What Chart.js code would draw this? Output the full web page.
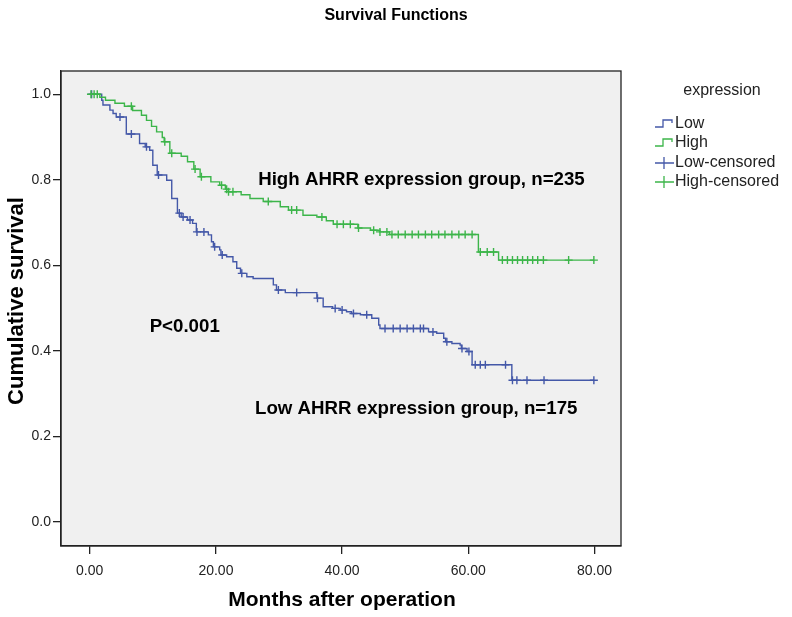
<!DOCTYPE html>
<html>
<head>
<meta charset="utf-8">
<script src="https://cdn.jsdelivr.net/npm/chart.js@4"></script>
<style>
  body { margin: 0; background: #fff; }
  #km { display: block; }
</style>
</head>
<body>
<canvas id="km" width="792" height="617"></canvas>
<script>
// Kaplan-Meier steps: event time (months) and survival after that event
const lowTimes = [0, 1.9, 2.1, 3.2, 3.7, 4.2, 5.8, 7.9, 8.8, 9.5, 10.0, 10.7, 12.2, 13.0, 13.9, 14.5, 15.5, 16.3, 16.9, 18.8, 19.3, 19.6, 20.6, 20.8, 21.7, 22.7, 23.3, 23.9, 24.9, 25.9, 29.1, 29.6, 31.0, 36.0, 37.0, 38.5, 39.7, 40.7, 41.5, 42.9, 44.7, 45.8, 46.0, 53.7, 55.0, 56.1, 56.4, 57.4, 58.7, 58.9, 59.8, 60.6, 66.9];
const lowSurv = [1.0, 0.986, 0.975, 0.963, 0.955, 0.947, 0.907, 0.885, 0.877, 0.869, 0.834, 0.811, 0.799, 0.756, 0.722, 0.713, 0.706, 0.698, 0.678, 0.671, 0.655, 0.643, 0.636, 0.624, 0.620, 0.608, 0.593, 0.581, 0.573, 0.569, 0.554, 0.542, 0.536, 0.523, 0.503, 0.499, 0.495, 0.491, 0.487, 0.484, 0.476, 0.460, 0.452, 0.444, 0.441, 0.429, 0.421, 0.417, 0.413, 0.405, 0.398, 0.367, 0.331];
const lowCensored = [0.3, 4.8, 6.6, 9.0, 10.9, 14.2, 14.8, 15.9, 17.0, 18.1, 19.8, 21.0, 24.1, 29.9, 32.8, 36.1, 38.9, 40.0, 41.8, 43.9, 46.8, 48.1, 49.2, 50.3, 51.3, 52.4, 52.9, 54.4, 56.6, 59.0, 60.1, 61.1, 61.9, 62.7, 65.9, 67.0, 67.7, 69.3, 72.0, 79.9];
const lowEnd = 79.9;

const highTimes = [0, 1.6, 2.5, 4.0, 5.5, 6.8, 8.2, 9.0, 9.8, 10.6, 11.5, 11.8, 12.7, 14.5, 15.5, 16.5, 17.5, 19.2, 20.6, 21.5, 22.0, 24.0, 25.4, 27.5, 30.2, 31.5, 33.8, 36.0, 37.5, 38.6, 42.5, 44.5, 46.0, 47.5, 61.6, 64.8];
const highSurv = [1.0, 0.993, 0.986, 0.979, 0.972, 0.962, 0.951, 0.939, 0.925, 0.912, 0.899, 0.889, 0.862, 0.855, 0.842, 0.825, 0.807, 0.795, 0.787, 0.778, 0.772, 0.765, 0.756, 0.749, 0.737, 0.729, 0.717, 0.713, 0.704, 0.696, 0.687, 0.682, 0.678, 0.672, 0.631, 0.612];
const highCensored = [0.2, 0.7, 1.2, 6.6, 11.9, 13.0, 16.7, 17.7, 20.9, 21.7, 22.0, 22.7, 28.3, 32.0, 32.8, 36.8, 39.2, 40.2, 41.3, 42.6, 45.0, 46.0, 47.1, 47.9, 48.9, 50.0, 51.1, 52.1, 53.2, 54.2, 55.3, 56.3, 57.4, 58.5, 59.5, 60.6, 61.9, 63.0, 64.0, 65.4, 66.2, 67.0, 67.8, 68.6, 69.4, 70.2, 71.0, 71.9, 75.9, 79.9];
const highEnd = 79.9;

const xTicks = [0, 20, 40, 60, 80];
const yTicks = [0, 0.2, 0.4, 0.6, 0.8, 1.0];

const notes = [
  { text: 'High AHRR expression group, n=235', x: 26.7, y: 0.799 },
  { text: 'P<0.001', x: 9.5, y: 0.455 },
  { text: 'Low AHRR expression group, n=175', x: 26.2, y: 0.264 },
];

const BLUE = '#4458a8';
const GREEN = '#3cb54a';
const FONT = "'Liberation Sans', Arial, sans-serif";

const survAt = (times, surv, t) => {
  let s = surv[0];
  times.forEach((tt, i) => { if (tt <= t) s = surv[i]; });
  return s;
};
const curve = (times, surv, end) =>
  times.map((t, i) => ({ x: t, y: surv[i] })).concat([{ x: end, y: surv[surv.length - 1] }]);
const marks = (cens, times, surv) => cens.map((t) => ({ x: t, y: survAt(times, surv, t) }));

const frame = {
  id: 'frame',
  beforeDraw(chart) {
    const { ctx, chartArea: a } = chart;
    ctx.save();
    ctx.fillStyle = '#f0f0f0';
    ctx.fillRect(a.left, a.top, a.right - a.left, a.bottom - a.top);
    ctx.restore();
  },
  afterDraw(chart) {
    const { ctx, chartArea: a, scales } = chart;
    ctx.save();
    ctx.strokeStyle = '#222';
    ctx.lineWidth = 1.3;
    ctx.strokeRect(a.left, a.top, a.right - a.left, a.bottom - a.top);

    ctx.fillStyle = '#000';
    ctx.textBaseline = 'middle';
    ctx.textAlign = 'center';
    ctx.font = `bold 16px ${FONT}`;
    ctx.fillText('Survival Functions', 396, 16);
    ctx.font = `bold 21px ${FONT}`;
    ctx.fillText('Months after operation', 342, 600);
    ctx.save();
    ctx.translate(17, 301);
    ctx.rotate(-Math.PI / 2);
    ctx.font = `bold 22px ${FONT}`;
    ctx.fillText('Cumulative survival', 0, 0);
    ctx.restore();

    ctx.textAlign = 'left';
    ctx.font = `bold 18.7px ${FONT}`;
    notes.forEach((n) => ctx.fillText(n.text, scales.x.getPixelForValue(n.x), scales.y.getPixelForValue(n.y)));

    // legend
    ctx.font = `16px ${FONT}`;
    ctx.fillStyle = '#222';
    ctx.textAlign = 'center';
    ctx.fillText('expression', 722, 91);
    ctx.textAlign = 'left';
    const items = [
      { label: 'Low', color: BLUE, step: true, y: 124 },
      { label: 'High', color: GREEN, step: true, y: 143 },
      { label: 'Low-censored', color: BLUE, step: false, y: 163 },
      { label: 'High-censored', color: GREEN, step: false, y: 182 },
    ];
    items.forEach((it) => {
      ctx.strokeStyle = it.color;
      ctx.lineWidth = 1.3;
      ctx.beginPath();
      if (it.step) {
        ctx.moveTo(655, it.y + 3);
        ctx.lineTo(663, it.y + 3);
        ctx.lineTo(663, it.y - 4);
        ctx.lineTo(672, it.y - 4);
        ctx.lineTo(672, it.y - 1);
      } else {
        ctx.moveTo(655, it.y);
        ctx.lineTo(674, it.y);
        ctx.moveTo(664, it.y - 6);
        ctx.lineTo(664, it.y + 6);
      }
      ctx.stroke();
      ctx.fillStyle = '#222';
      ctx.fillText(it.label, 675, it.y);
    });
    ctx.restore();
  },
};

new Chart(document.getElementById('km'), {
  type: 'scatter',
  data: {
    datasets: [
      { type: 'line', label: 'High', data: curve(highTimes, highSurv, highEnd), stepped: 'before',
        borderColor: GREEN, borderWidth: 1.4, pointRadius: 0, fill: false },
      { label: 'High-censored', data: marks(highCensored, highTimes, highSurv), pointStyle: 'cross',
        pointRadius: 4, borderColor: GREEN, backgroundColor: GREEN, pointBorderWidth: 1.4 },
      { type: 'line', label: 'Low', data: curve(lowTimes, lowSurv, lowEnd), stepped: 'before',
        borderColor: BLUE, borderWidth: 1.4, pointRadius: 0, fill: false },
      { label: 'Low-censored', data: marks(lowCensored, lowTimes, lowSurv), pointStyle: 'cross',
        pointRadius: 4, borderColor: BLUE, backgroundColor: BLUE, pointBorderWidth: 1.4 },
    ],
  },
  options: {
    responsive: false,
    animation: false,
    layout: { padding: { top: 71, right: 171, left: 0, bottom: 0 } },
    plugins: { legend: { display: false }, tooltip: { enabled: false }, title: { display: false } },
    scales: {
      x: {
        type: 'linear', min: -4.55, max: 84.2,
        afterBuildTicks: (s) => { s.ticks = xTicks.map((v) => ({ value: v })); },
        afterFit: (s) => { s.height = 71; },
        grid: { drawOnChartArea: false, tickLength: 8, color: '#222', lineWidth: 1.3 },
        border: { color: '#222', width: 1.3 },
        ticks: { padding: 9, color: '#222', font: { family: FONT, size: 14 }, callback: (v) => v.toFixed(2), maxRotation: 0 },
      },
      y: {
        type: 'linear', min: -0.057, max: 1.0545,
        afterBuildTicks: (s) => { s.ticks = yTicks.map((v) => ({ value: v })); },
        afterFit: (s) => { s.width = 61; },
        grid: { drawOnChartArea: false, tickLength: 8, color: '#222', lineWidth: 1.3 },
        border: { color: '#222', width: 1.3 },
        ticks: { padding: 2, color: '#222', font: { family: FONT, size: 14 }, callback: (v) => v.toFixed(1) },
      },
    },
  },
  plugins: [frame],
});
</script>
</body>
</html>
